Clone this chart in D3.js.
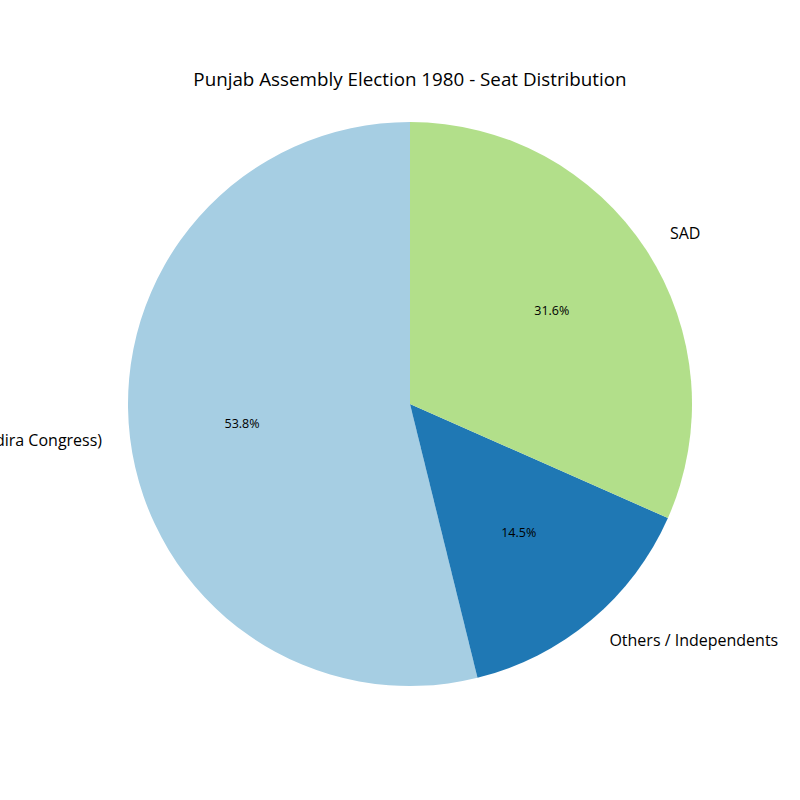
<!DOCTYPE html>
<html>
<head>
<meta charset="utf-8">
<script src="https://cdn.jsdelivr.net/npm/d3@7"></script>
<style>
  body { margin: 0; background: #fff; }
  svg { display: block; font-family: "Open Sans", Roboto, sans-serif; }
</style>
</head>
<body>
<script>
var parties = ["Indian National Congress (Indira Congress)", "Others / Independents", "SAD"];
var seats = [63, 17, 37];
var colors = ["#a6cee3", "#1f78b4", "#b2df8a"];
var title = "Punjab Assembly Election 1980 - Seat Distribution";

var width = 800, height = 800,
    cx = 410, cy = 404, radius = 282;

var svg = d3.select("body").append("svg")
    .attr("width", width)
    .attr("height", height);

svg.append("text")
    .attr("x", cx)
    .attr("y", 81)
    .attr("text-anchor", "middle")
    .attr("dominant-baseline", "middle")
    .style("font-size", "18.8px")
    .style("fill", "#000")
    .text(title);

var data = parties.map(function(p, i) { return {name: p, value: seats[i], color: colors[i]}; });
var total = d3.sum(seats);

// counter-clockwise from the top, like matplotlib startangle=90
var pie = d3.pie()
    .sort(null)
    .value(function(d) { return d.value; })
    .startAngle(0)
    .endAngle(-2 * Math.PI);

var arc = d3.arc().innerRadius(0).outerRadius(radius);

var g = svg.append("g")
    .attr("transform", "translate(" + cx + "," + cy + ")");

var arcs = pie(data);

g.selectAll(".slice")
    .data(arcs)
    .enter().append("path")
    .attr("class", "slice")
    .attr("d", arc)
    .style("fill", function(d) { return d.data.color; });

function pos(d, k) {
    var a = (d.startAngle + d.endAngle) / 2;
    return [k * radius * Math.sin(a), -k * radius * Math.cos(a)];
}

g.selectAll(".pct")
    .data(arcs)
    .enter().append("text")
    .attr("class", "pct")
    .attr("x", function(d) { return pos(d, 0.6)[0]; })
    .attr("y", function(d) { return pos(d, 0.6)[1]; })
    .attr("text-anchor", "middle")
    .attr("dominant-baseline", "middle")
    .style("font-size", "12.5px")
    .text(function(d) { return (d.data.value / total * 100).toFixed(1) + "%"; });

g.selectAll(".lbl")
    .data(arcs)
    .enter().append("text")
    .attr("class", "lbl")
    .attr("x", function(d) { return pos(d, 1.1)[0]; })
    .attr("y", function(d) { return pos(d, 1.1)[1]; })
    .attr("text-anchor", function(d) { return pos(d, 1.1)[0] < 0 ? "end" : "start"; })
    .attr("dominant-baseline", "middle")
    .style("font-size", "16px")
    .text(function(d) { return d.data.name; });
</script>
</body>
</html>
